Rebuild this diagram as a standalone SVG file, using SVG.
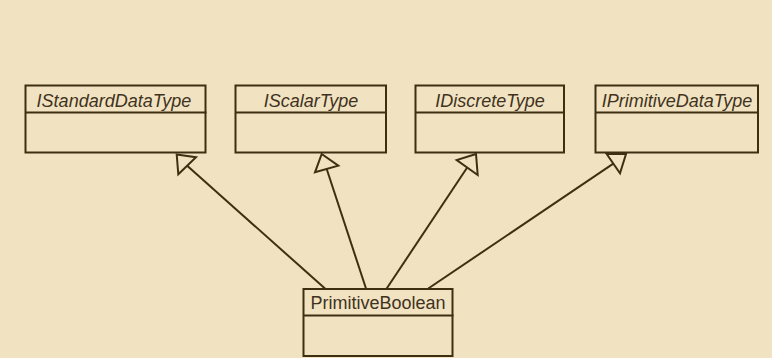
<svg xmlns="http://www.w3.org/2000/svg" width="772" height="358" viewBox="0 0 772 358">
<defs>
<style>
.box{fill:none;stroke:#3f2f12;stroke-width:2}
.sep{stroke:#3f2f12;stroke-width:2}
.lbl{font-family:"Liberation Sans",Arial,sans-serif;font-size:18px;fill:#3f3220;text-anchor:middle}
.it{font-style:italic}
.edge{fill:none;stroke:#3f2f12;stroke-width:2}
.head{fill:none;stroke:#3f2f12;stroke-width:2;stroke-linejoin:miter}
</style>
</defs>
<rect x="0" y="0" width="772" height="358" fill="#f1e3c2"/>
<g id="IStandardDataType">
<rect class="box" x="25.5" y="85.5" width="180" height="67"/>
<line class="sep" x1="25.5" y1="112.5" x2="206.5" y2="112.5"/>
<text class="lbl it" x="114" y="106.5">IStandardDataType</text>
</g>
<g id="IScalarType">
<rect class="box" x="235.5" y="85.5" width="150.5" height="67"/>
<line class="sep" x1="235.5" y1="112.5" x2="387" y2="112.5"/>
<text class="lbl it" x="311" y="106.5">IScalarType</text>
</g>
<g id="IDiscreteType">
<rect class="box" x="415.5" y="85.5" width="148.5" height="67"/>
<line class="sep" x1="415.5" y1="112.5" x2="565" y2="112.5"/>
<text class="lbl it" x="490" y="106.5">IDiscreteType</text>
</g>
<g id="IPrimitiveDataType">
<rect class="box" x="595.5" y="85.5" width="162.5" height="67"/>
<line class="sep" x1="595.5" y1="112.5" x2="759" y2="112.5"/>
<text class="lbl it" x="677" y="106.5">IPrimitiveDataType</text>
</g>
<g id="PrimitiveBoolean">
<rect class="box" x="303.5" y="289" width="149" height="67"/>
<line class="sep" x1="303.5" y1="315.5" x2="453.5" y2="315.5"/>
<text class="lbl" x="378" y="309">PrimitiveBoolean</text>
</g>
<g id="connectors">
<line class="edge" x1="325" y1="288.5" x2="187.2" y2="165.8"/>
<polygon class="head" points="176.7,154.5 196,157.3 178.3,174.3"/>
<line class="edge" x1="366" y1="288.5" x2="326.7" y2="169"/>
<polygon class="head" points="321.7,154 338.3,165.7 315,172.3"/>
<line class="edge" x1="386.7" y1="288.5" x2="467.2" y2="167.5"/>
<polygon class="head" points="476,154 456.7,160 477.7,175"/>
<line class="edge" x1="428.3" y1="288.5" x2="613.3" y2="163.7"/>
<polygon class="head" points="626,154 606.7,154 620,173.3"/>
</g>
</svg>
